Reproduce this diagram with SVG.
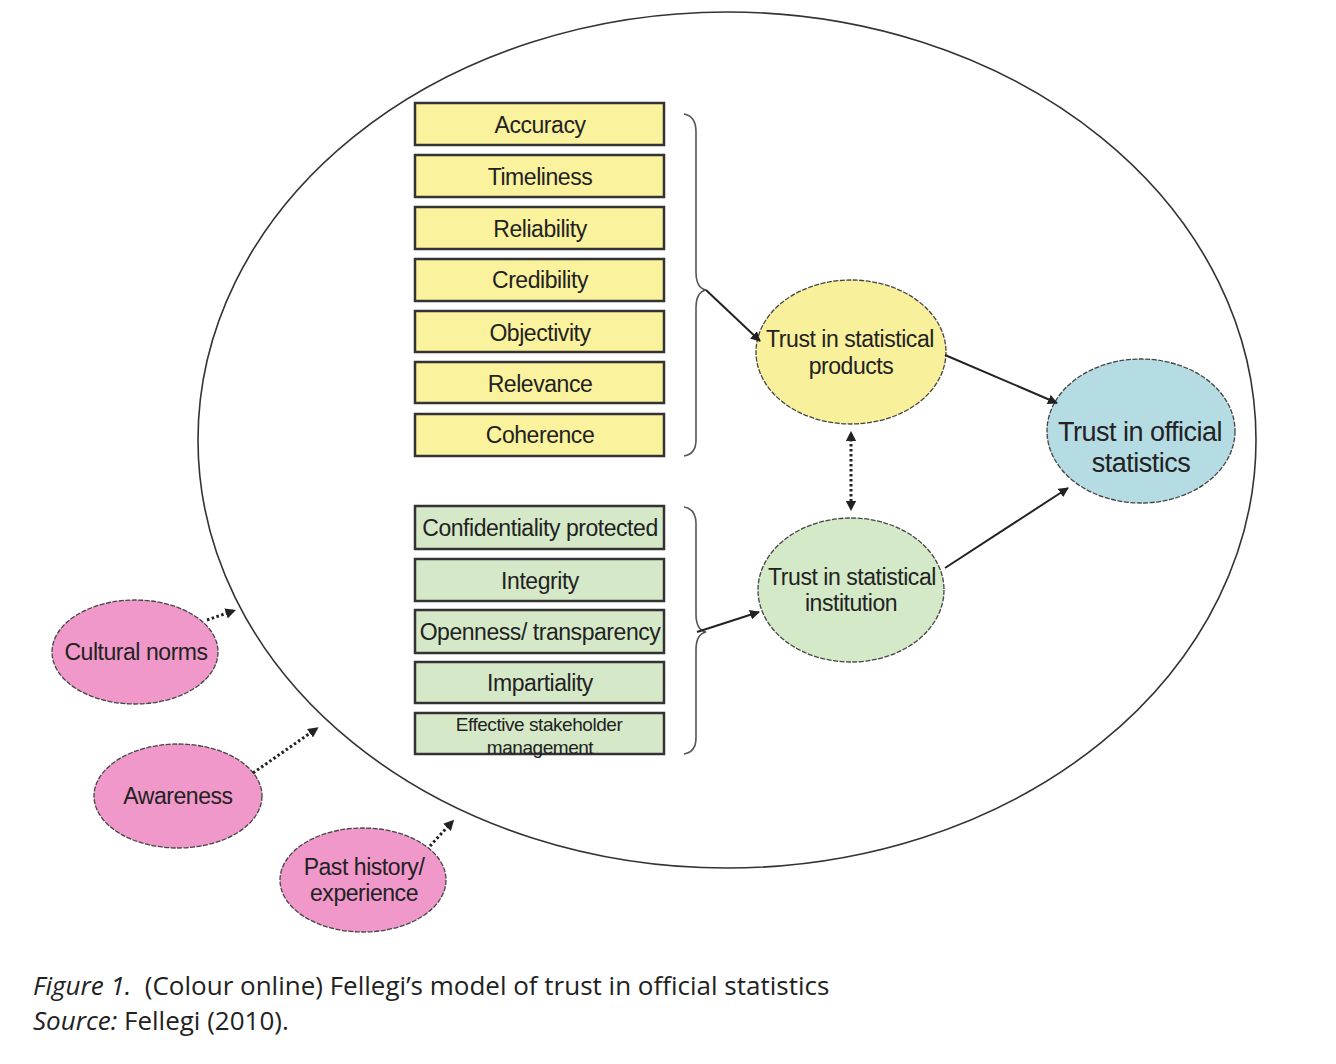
<svg xmlns="http://www.w3.org/2000/svg" width="1336" height="1064" viewBox="0 0 1336 1064">
<style>
.bg{fill:#fff}
.yb{fill:#faf29c;stroke:#333;stroke-width:2.5}
.gb{fill:#d5e9c8;stroke:#333;stroke-width:2.5}
.bt{font-family:"Liberation Sans",Arial,sans-serif;font-size:23px;fill:#222;text-anchor:middle;letter-spacing:-0.45px}
.el{stroke:#444;stroke-width:1.3;stroke-dasharray:5 1.5}
.et{font-family:"Liberation Sans",Arial,sans-serif;font-size:23px;fill:#222;text-anchor:middle;letter-spacing:-0.45px}
.big{fill:none;stroke:#333;stroke-width:1.6}
.brace{fill:none;stroke:#555;stroke-width:1.6}
.arr{stroke:#222;stroke-width:2;fill:none;marker-end:url(#ah)}
.dot{stroke:#222;stroke-width:3;fill:none;stroke-dasharray:2.5 2.5}
.cap{font-family:"Open Sans","Liberation Sans",sans-serif;font-size:26px;fill:#222;white-space:pre}
</style>
<defs>
<marker id="ah" viewBox="0 0 10 10" refX="9" refY="5" markerWidth="5" markerHeight="5" orient="auto"><path d="M0,0L10,5L0,10z" fill="#222"/></marker>
<marker id="ah2" viewBox="0 0 10 10" refX="7" refY="5" markerWidth="3.5" markerHeight="3.5" orient="auto-start-reverse"><path d="M0,0L10,5L0,10z" fill="#222"/></marker>
</defs>
<rect class="bg" width="1336" height="1064"/>
<ellipse class="big" cx="727" cy="440" rx="529" ry="428"/>

<g id="accuracy"><rect class="yb" x="415" y="103" width="249" height="42"/><text class="bt" x="540" y="133">Accuracy</text></g>
<g id="timeliness"><rect class="yb" x="415" y="155" width="249" height="42"/><text class="bt" x="540" y="185">Timeliness</text></g>
<g id="reliability"><rect class="yb" x="415" y="207" width="249" height="42"/><text class="bt" x="540" y="237">Reliability</text></g>
<g id="credibility"><rect class="yb" x="415" y="259" width="249" height="42"/><text class="bt" x="540" y="288">Credibility</text></g>
<g id="objectivity"><rect class="yb" x="415" y="311" width="249" height="41"/><text class="bt" x="540" y="341">Objectivity</text></g>
<g id="relevance"><rect class="yb" x="415" y="362" width="249" height="41"/><text class="bt" x="540" y="392">Relevance</text></g>
<g id="coherence"><rect class="yb" x="415" y="414" width="249" height="42"/><text class="bt" x="540" y="443">Coherence</text></g>

<g id="confidentiality"><rect class="gb" x="415" y="506" width="249" height="43"/><text class="bt" x="540" y="536">Confidentiality protected</text></g>
<g id="integrity"><rect class="gb" x="415" y="559" width="249" height="42"/><text class="bt" x="540" y="589">Integrity</text></g>
<g id="openness"><rect class="gb" x="415" y="610" width="249" height="43"/><text class="bt" x="540" y="640">Openness/ transparency</text></g>
<g id="impartiality"><rect class="gb" x="415" y="662" width="249" height="41"/><text class="bt" x="540" y="691">Impartiality</text></g>
<g id="stakeholder"><rect class="gb" x="415" y="713" width="249" height="41"/><text class="bt" x="539" y="731" style="font-size:19px">Effective stakeholder</text><text class="bt" x="540" y="754" style="font-size:19px">management</text></g>

<g id="braces">
<path class="brace" d="M684,114 Q696,116 696,132 L696,272 Q696,288 706,290 Q696,292 696,308 L696,440 Q696,454 684,456"/>
<path class="brace" d="M684,507 Q696,509 696,524 L696,614 Q696,630 706,632 Q696,634 696,650 L696,738 Q696,752 684,754"/>
</g>

<g id="trust-products"><ellipse class="el" cx="851" cy="352" rx="95" ry="72" fill="#f9f09b"/><text class="et" x="850" y="347">Trust in statistical</text><text class="et" x="851" y="374">products</text></g>
<g id="trust-institution"><ellipse class="el" cx="851" cy="590" rx="93" ry="72" fill="#d3e9c7"/><text class="et" x="852" y="585">Trust in statistical</text><text class="et" x="851" y="611">institution</text></g>
<g id="trust-official"><ellipse class="el" cx="1141" cy="431" rx="94" ry="72" fill="#b5dbe3"/><text class="et" x="1140" y="441" style="font-size:27px;letter-spacing:-0.5px">Trust in official</text><text class="et" x="1141" y="472" style="font-size:27px;letter-spacing:-0.5px">statistics</text></g>

<g id="cultural"><ellipse class="el" cx="135" cy="652" rx="83" ry="52" fill="#ef98c9"/><text class="et" x="136" y="660">Cultural norms</text></g>
<g id="awareness"><ellipse class="el" cx="178" cy="796" rx="84" ry="52" fill="#ef98c9"/><text class="et" x="178" y="804">Awareness</text></g>
<g id="past"><ellipse class="el" cx="363" cy="880" rx="83" ry="52" fill="#ef98c9"/><text class="et" x="364" y="875">Past history/</text><text class="et" x="364" y="901">experience</text></g>

<g id="connectors">
<line class="arr" x1="706" y1="290" x2="760" y2="341"/>
<line class="arr" x1="697" y1="632" x2="759" y2="612"/>
<line class="arr" x1="945" y1="355" x2="1057" y2="403"/>
<line class="arr" x1="945" y1="568" x2="1068" y2="488"/>
<line class="dot" x1="851" y1="434" x2="851" y2="508" marker-start="url(#ah2)" marker-end="url(#ah2)"/>
<line class="dot" x1="207" y1="620" x2="233" y2="611" marker-end="url(#ah2)"/>
<line class="dot" x1="253" y1="773" x2="316" y2="729" marker-end="url(#ah2)"/>
<line class="dot" x1="430" y1="846" x2="452" y2="822" marker-end="url(#ah2)"/>
</g>

<text class="cap" x="33" y="995"><tspan font-style="italic">Figure 1.</tspan>  (Colour online) Fellegi’s model of trust in official statistics</text>
<text class="cap" x="33" y="1030"><tspan font-style="italic">Source:</tspan> Fellegi (2010).</text>
</svg>
